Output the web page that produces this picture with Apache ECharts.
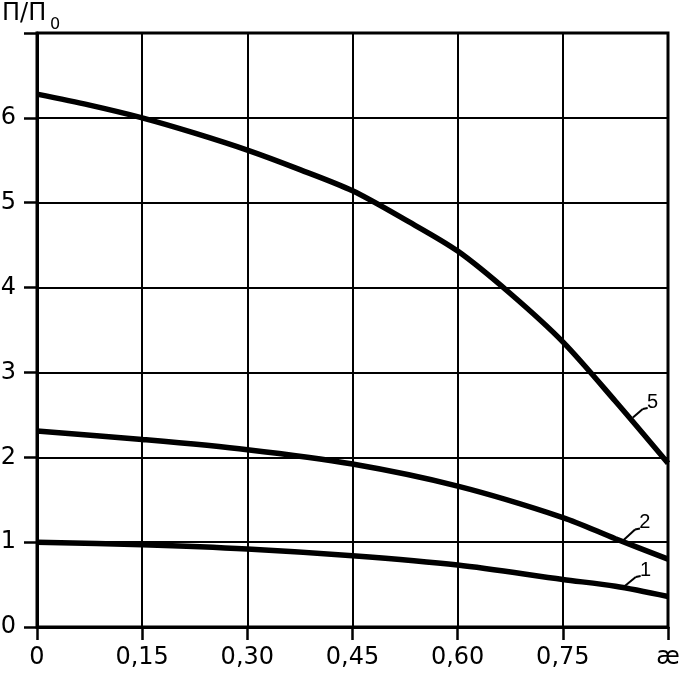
<!DOCTYPE html>
<html>
<head>
<meta charset="utf-8">
<script src="https://cdn.jsdelivr.net/npm/echarts@6/dist/echarts.min.js"></script>
<style>html,body{margin:0;padding:0;background:#fff;}#c{width:685px;height:673px;}</style>
</head>
<body>
<div id="c"></div>
<script>
// ---- data ----
const xTickLabels = ['0', '0,15', '0,30', '0,45', '0,60', '0,75', 'æ'];
const yTickLabels = ['0', '1', '2', '3', '4', '5', '6', ''];
const x5 = [0, 0.075, 0.15, 0.225, 0.30, 0.375, 0.45, 0.525, 0.60, 0.675, 0.75, 0.825, 0.90];
const curve5 = [6.28, 6.15, 6.00, 5.82, 5.62, 5.39, 5.14, 4.80, 4.43, 3.93, 3.36, 2.66, 1.93];
const x12 = [0, 0.15, 0.30, 0.45, 0.60, 0.75, 0.825, 0.90];
const curve2 = [2.31, 2.21, 2.09, 1.92, 1.66, 1.29, 1.04, 0.80];
const curve1 = [1.00, 0.97, 0.92, 0.84, 0.73, 0.56, 0.48, 0.36];
const curveNames = ['5', '2', '1'];
// leader line anchors (data coords): start on curve, bend, label point
const leaders = [
  [[0.850, 2.47], [0.864, 2.57], [0.878, 2.64]],
  [[0.836, 1.02], [0.853, 1.15], [0.867, 1.23]],
  [[0.838, 0.48], [0.854, 0.59], [0.868, 0.67]]
];

const pairs = (xs, ys) => xs.map((x, i) => [x, ys[i]]);
const tickFont = "'DejaVu Sans', sans-serif";
const noteFont = "'Liberation Sans', Arial, sans-serif";

function mkSeries(name, data, leader) {
  const [a, b, t] = leader;
  return {
    name: name,
    type: 'line',
    data: data,
    smooth: 0.3,
    symbol: 'none',
    lineStyle: { color: '#000', width: 5.5 },
    markLine: {
      silent: true,
      symbol: 'none',
      label: { show: false },
      lineStyle: { color: '#000', width: 2, type: 'solid' },
      data: [
        [{ coord: a }, { coord: b }],
        [{ coord: b }, { coord: [b[0] + 0.007, b[1] + 0.01] }]
      ]
    },
    markPoint: {
      silent: true,
      symbol: 'circle',
      symbolSize: 0,
      label: {
        show: true,
        formatter: name,
        color: '#000',
        fontSize: 20,
        fontFamily: noteFont,
        position: 'inside'
      },
      data: [{ coord: t }]
    }
  };
}

const chart = echarts.init(document.getElementById('c'), null, { renderer: 'canvas' });
chart.setOption({
  backgroundColor: '#fff',
  animation: false,
  grid: {
    left: 37, right: 17, top: 33, bottom: 46,
    outerBoundsMode: 'none',
    show: true, borderColor: '#000', borderWidth: 3, backgroundColor: 'transparent'
  },
  graphic: [
    { type: 'text', left: 2, top: 2, style: { text: 'П/П', fontSize: 24, fontFamily: tickFont, fill: '#000' } },
    { type: 'text', left: 50, top: 17, style: { text: '0', fontSize: 16, fontFamily: tickFont, fill: '#000' } }
  ],
  xAxis: {
    type: 'value', min: 0, max: 0.9, interval: 0.15,
    axisLine: { show: true, lineStyle: { color: '#000', width: 3 } },
    axisTick: { show: true, inside: false, length: 13, lineStyle: { color: '#000', width: 2.5 } },
    splitLine: { show: true, lineStyle: { color: '#000', width: 2 } },
    axisLabel: {
      color: '#000', fontSize: 24, fontFamily: tickFont, margin: 19,
      formatter: v => xTickLabels[Math.round(v / 0.15)]
    }
  },
  yAxis: {
    type: 'value', min: 0, max: 7, interval: 1,
    axisLine: { show: true, lineStyle: { color: '#000', width: 3 } },
    axisTick: { show: true, inside: false, length: 13, lineStyle: { color: '#000', width: 2.5 } },
    splitLine: { show: true, lineStyle: { color: '#000', width: 2 } },
    axisLabel: {
      color: '#000', fontSize: 24, fontFamily: tickFont, margin: 21,
      formatter: v => yTickLabels[Math.round(v)]
    }
  },
  series: [
    mkSeries(curveNames[0], pairs(x5, curve5), leaders[0]),
    mkSeries(curveNames[1], pairs(x12, curve2), leaders[1]),
    mkSeries(curveNames[2], pairs(x12, curve1), leaders[2])
  ]
});
</script>
</body>
</html>
